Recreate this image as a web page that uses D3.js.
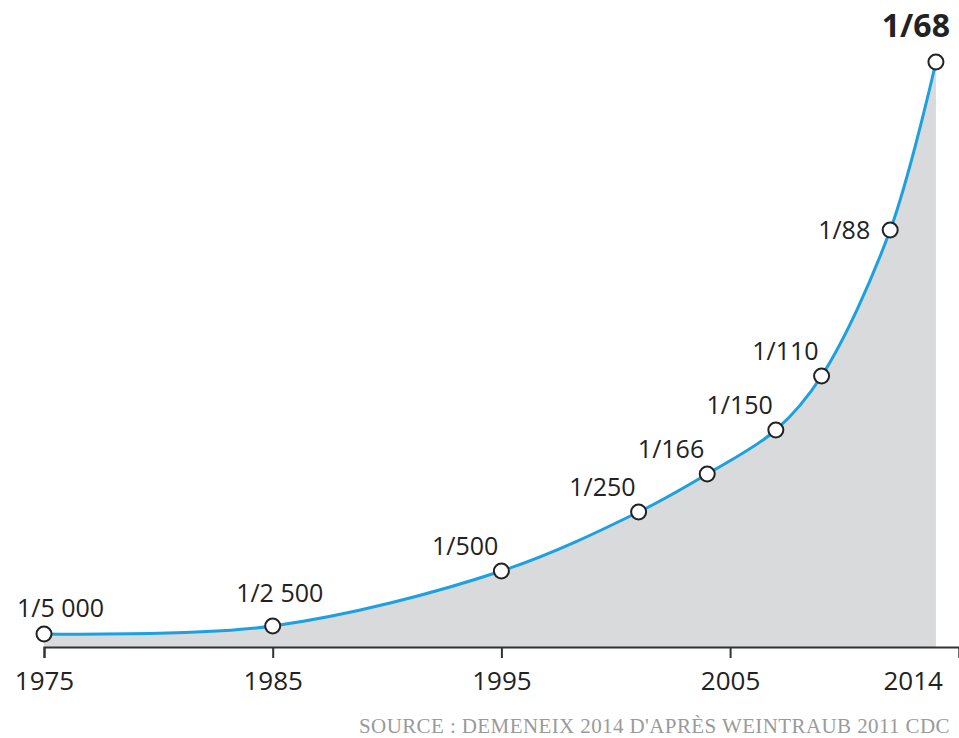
<!DOCTYPE html>
<html>
<head>
<meta charset="utf-8">
<script src="https://cdn.jsdelivr.net/npm/d3@7"></script>
<style>
  html, body { margin: 0; padding: 0; background: #fff; }
  svg { display: block; }
</style>
</head>
<body>
<svg id="chart" width="959" height="738"></svg>
<script>
// ---- Data ----
const years = [1975, 1985, 1995, 2001, 2004, 2007, 2009, 2012, 2014];
const prevalenceLabels = ["1/5 000", "1/2 500", "1/500", "1/250", "1/166", "1/150", "1/110", "1/88", "1/68"];
// relative height of the (illustrative) curve
const curveHeight = [13, 21, 76, 135, 173, 217, 271, 417, 585];
const tickYears = [1975, 1985, 1995, 2005];
const lastTickLabel = "2014";
const sourceText = "SOURCE : DEMENEIX 2014 D'APRÈS WEINTRAUB 2011 CDC";

const data = years.map((y, i) => ({ year: y, label: prevalenceLabels[i], h: curveHeight[i] }));

// ---- Layout ----
const svg = d3.select("#chart");
const baseY = 647;
const x = d3.scaleLinear().domain([1975, 2015]).range([44, 958.8]);
const y = d3.scaleLinear().domain([0, 600]).range([baseY, 47]);

const sansFont = "'Open Sans', 'Liberation Sans', sans-serif";
const curve = d3.curveCatmullRom.alpha(0.5);

// area
const area = d3.area()
  .x(d => x(d.year))
  .y0(baseY)
  .y1(d => y(d.h))
  .curve(curve);
svg.append("path")
  .datum(data)
  .attr("d", area)
  .attr("fill", "#d9dadc");

// line
const line = d3.line()
  .x(d => x(d.year))
  .y(d => y(d.h))
  .curve(curve);
svg.append("path")
  .datum(data)
  .attr("d", line)
  .attr("fill", "none")
  .attr("stroke", "#1ba0e2")
  .attr("stroke-width", 3);

// axis
const axis = d3.axisBottom(x)
  .tickValues(tickYears)
  .tickFormat(d3.format("d"))
  .tickSize(11)
  .tickSizeOuter(11);
const gAxis = svg.append("g")
  .attr("transform", `translate(0,${baseY})`)
  .call(axis);
gAxis.select(".domain").attr("stroke", "#333").attr("stroke-width", 2);
gAxis.selectAll(".tick line").attr("stroke", "#333").attr("stroke-width", 2);
gAxis.selectAll(".tick text")
  .attr("y", 43)
  .attr("dy", null)
  .attr("fill", "#222")
  .style("font-family", sansFont)
  .style("font-size", "26px");

// last year label (placed at the end of the axis)
svg.append("text")
  .attr("x", x(2014) + 7)
  .attr("y", baseY + 43)
  .attr("text-anchor", "end")
  .attr("fill", "#222")
  .style("font-family", sansFont)
  .style("font-size", "26px")
  .text(lastTickLabel);

// points
svg.selectAll("circle.pt")
  .data(data)
  .join("circle")
  .attr("class", "pt")
  .attr("cx", d => x(d.year))
  .attr("cy", d => y(d.h))
  .attr("r", 7.5)
  .attr("fill", "#fff")
  .attr("stroke", "#222")
  .attr("stroke-width", 2);

// labels
const n = data.length;
svg.selectAll("text.lbl")
  .data(data)
  .join("text")
  .attr("class", "lbl")
  .attr("x", (d, i) => {
    const px = x(d.year);
    if (i === 0) return px - 27;
    if (i === 1) return px + 7;
    if (i === n - 2) return px - 20;
    if (i === n - 1) return px + 14;
    return px - 3;
  })
  .attr("y", (d, i) => {
    const py = y(d.h);
    if (i === 0) return py - 17;
    if (i === 1) return py - 24;
    if (i === n - 2) return py + 9;
    if (i === n - 1) return py - 25;
    return py - 16;
  })
  .attr("text-anchor", (d, i) => i === 0 ? "start" : (i === 1 ? "middle" : "end"))
  .attr("fill", "#222")
  .style("font-family", sansFont)
  .style("font-size", (d, i) => i === n - 1 ? "32px" : "25px")
  .style("font-weight", (d, i) => i === n - 1 ? "700" : "400")
  .text(d => d.label);

// source
svg.append("text")
  .attr("x", 359)
  .attr("y", 733)
  .attr("fill", "#9a9a9a")
  .style("font-family", "'Liberation Serif', 'DejaVu Serif', serif")
  .style("font-size", "21px")
  .style("letter-spacing", "0.4px")
  .text(sourceText);
</script>
</body>
</html>
